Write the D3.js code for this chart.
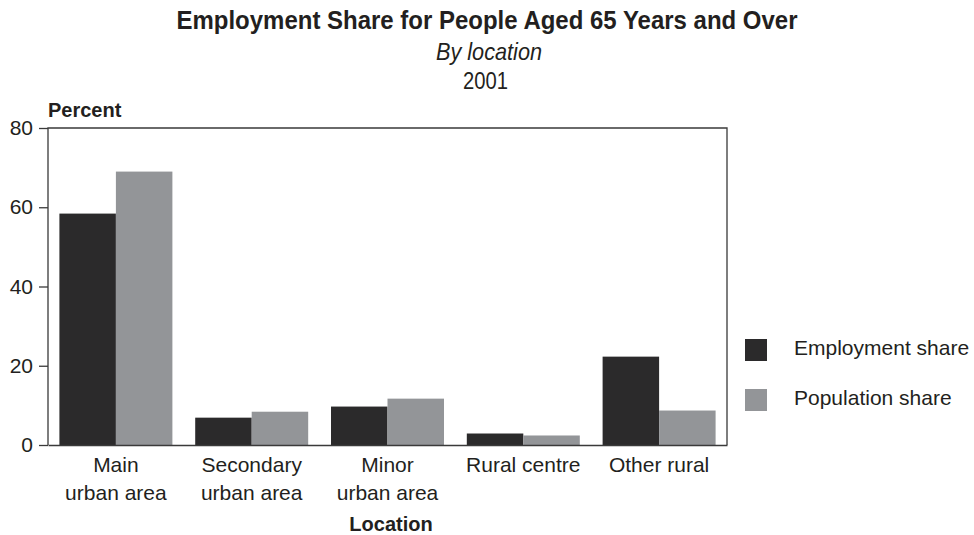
<!DOCTYPE html>
<html>
<head>
<meta charset="utf-8">
<script src="https://cdn.jsdelivr.net/npm/d3@7"></script>
<style>
  html, body { margin: 0; padding: 0; background: #fff; }
  svg text { fill: #231f20; font-family: "Liberation Sans", Arial, Helvetica, sans-serif; }
</style>
</head>
<body>
<svg id="chart" width="974" height="535"></svg>
<script>
// Employment vs population share of people aged 65+, by location type, 2001
const categories = [["Main", "urban area"], ["Secondary", "urban area"], ["Minor", "urban area"], ["Rural centre"], ["Other rural"]];
const seriesNames = ["Employment share", "Population share"];
const employmentShare = [58.4, 6.9, 9.7, 2.9, 22.3];
const populationShare = [69.0, 8.4, 11.7, 2.4, 8.7];
const yTicks = [0, 20, 40, 60, 80];
const colors = ["#2b2a2b", "#939598"];

const svg = d3.select("#chart");
const margin = { left: 48, top: 128, right: 727, bottom: 445 };

const keys = categories.map(c => c.join(" "));
const x = d3.scaleBand().domain(keys).range([margin.left, margin.right])
  .paddingInner(0.168).paddingOuter(0.084);
const x1 = d3.scaleBand().domain(seriesNames).range([0, x.bandwidth()]);
const y = d3.scaleLinear().domain([0, 80]).range([margin.bottom, margin.top]);

const values = [employmentShare, populationShare];

// Bars
const groups = svg.append("g").selectAll("g").data(keys).join("g")
  .attr("transform", d => `translate(${x(d)},0)`);
groups.selectAll("rect").data((d, i) => seriesNames.map((s, j) => ({ s, v: values[j][i], j })))
  .join("rect")
  .attr("x", d => x1(d.s))
  .attr("width", x1.bandwidth())
  .attr("y", d => y(d.v))
  .attr("height", d => y(0) - y(d.v))
  .attr("fill", d => colors[d.j]);

// Frame (left, top, right)
svg.append("path")
  .attr("d", `M${margin.left},${margin.bottom}V${margin.top}H${margin.right}V${margin.bottom}`)
  .attr("stroke", "#3a3a3a").attr("stroke-width", 1.3).attr("fill", "none");

// Y axis
const yAxis = d3.axisLeft(y).tickValues(yTicks).tickSize(9).tickPadding(6);
const gy = svg.append("g").attr("transform", `translate(${margin.left},0)`).call(yAxis);
gy.select(".domain").remove();
gy.selectAll(".tick line").attr("stroke", "#3a3a3a").attr("stroke-width", 1.3);
gy.selectAll(".tick text").attr("font-family", null).attr("font-size", null)
  .style("font-size", "21px").attr("fill", "#231f20");

// X axis base line
const xAxis = d3.axisBottom(x).tickSize(0).tickFormat("");
const gx = svg.append("g").attr("transform", `translate(0,${margin.bottom})`).call(xAxis);
gx.select(".domain").attr("stroke", "#3a3a3a").attr("stroke-width", 1.6);

// Category labels
const lab = svg.append("g").selectAll("text").data(categories).join("text")
  .attr("text-anchor", "middle")
  .style("font-size", "21px")
  .attr("x", (d, i) => x(keys[i]) + x.bandwidth() / 2)
  .attr("y", 472);
lab.selectAll("tspan").data(d => d).join("tspan")
  .attr("x", function() { return d3.select(this.parentNode).attr("x"); })
  .attr("dy", (d, i) => i === 0 ? 0 : 28)
  .text(d => d);

// Axis titles
svg.append("text").attr("x", 48).attr("y", 117)
  .style("font-size", "20px").style("font-weight", "bold").text("Percent");
svg.append("text").attr("x", 391).attr("y", 531)
  .attr("text-anchor", "middle").style("font-size", "20px").style("font-weight", "bold").text("Location");

// Titles (condensed)
svg.append("text").attr("x", 487).attr("y", 29).attr("text-anchor", "middle")
  .attr("textLength", 621).attr("lengthAdjust", "spacingAndGlyphs")
  .style("font-size", "26px").style("font-weight", "bold")
  .text("Employment Share for People Aged 65 Years and Over");
svg.append("text").attr("x", 489).attr("y", 60).attr("text-anchor", "middle")
  .attr("textLength", 106).attr("lengthAdjust", "spacingAndGlyphs")
  .style("font-size", "24px").style("font-style", "italic").text("By location");
svg.append("text").attr("x", 485.5).attr("y", 89).attr("text-anchor", "middle")
  .attr("textLength", 45).attr("lengthAdjust", "spacingAndGlyphs")
  .style("font-size", "24px").text("2001");

// Legend
const leg = svg.append("g").selectAll("g").data(seriesNames).join("g")
  .attr("transform", (d, i) => `translate(745,${339 + i * 50})`);
leg.append("rect").attr("width", 22).attr("height", 22).attr("fill", (d, i) => colors[i]);
leg.append("text").attr("x", 49).attr("y", 16)
  .style("font-size", "21px").text(d => d);
</script>
</body>
</html>
